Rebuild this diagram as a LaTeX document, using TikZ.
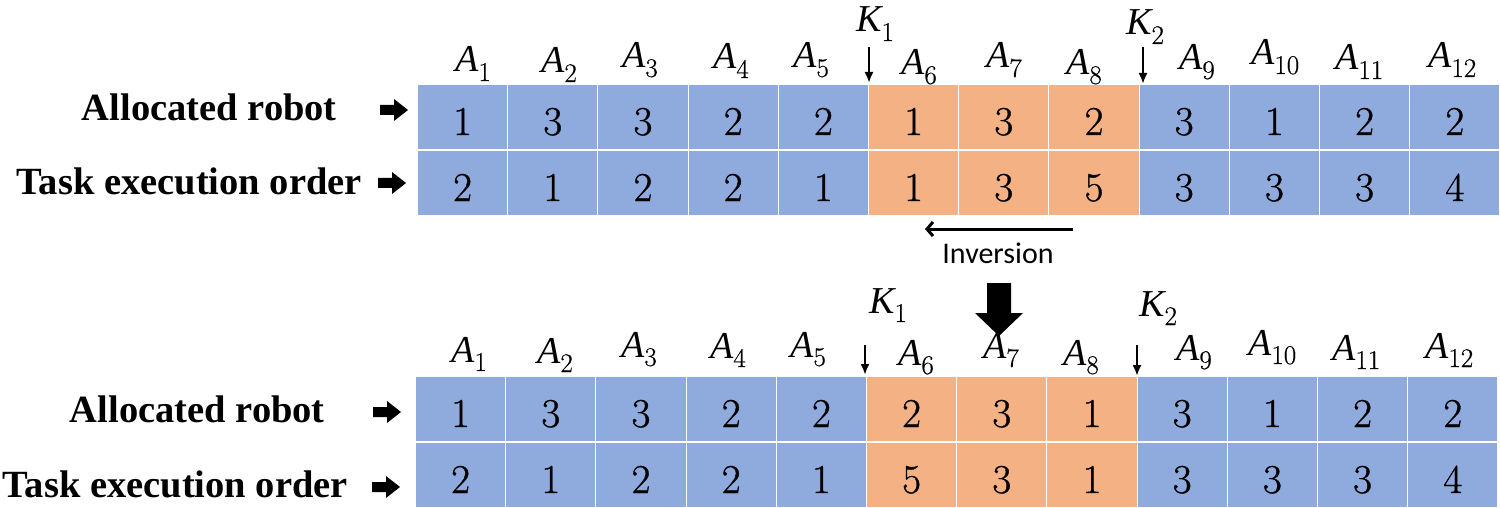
\documentclass[tikz,border=0pt]{standalone}
\usepackage{fontspec}
\newfontfamily\calfont{Carlito}
\newfontfamily\serfont{Liberation Serif}
\newfontfamily\digfont[FakeBold=0.8]{Latin Modern Roman}
\newfontfamily\subfont[FakeBold=0.5]{Latin Modern Roman}
\usetikzlibrary{arrows.meta}
\definecolor{cblue}{HTML}{8FAADC}
\definecolor{corange}{HTML}{F4B183}
\newcommand{\sublab}[2]{{\serfont\fontsize{38}{38}\selectfont\itshape #1}\raisebox{-9pt}{\subfont\fontsize{27}{27}\selectfont #2}}
\newcommand{\blockR}[2]{\fill[black,shift={(#1,#2)}] (0,-5) -- (14,-5) -- (14,-11) -- (28,0) -- (14,11) -- (14,5) -- (0,5) -- cycle;}
\begin{document}
\begin{tikzpicture}[x=1pt,y=-1pt,
  cellbox/.style={draw=white, line width=1pt, minimum width=90.2pt, minimum height=65pt, inner sep=0pt, anchor=north west},
  digit/.style={anchor=base, yshift=15pt, inner sep=0pt, font=\digfont\fontsize{41}{41}\selectfont},
  rowlab/.style={anchor=base east, inner sep=0pt, font=\serfont\fontsize{38.5}{38.5}\selectfont\bfseries},
  alab/.style={anchor=base west, inner sep=0pt},
  karrow/.style={line width=2.6pt, -{Latex[length=11pt,width=9pt]}},
  invarrow/.style={line width=3pt, -{Straight Barb[length=6pt,width=14pt]}}
]
\useasboundingbox (0,0) rectangle (1500,508);

% ---------- top table ----------
\foreach \val [count=\i] in {1,3,3,2,2,1,3,2,3,1,2,2}{
  \ifnum\i>5\relax\ifnum\i<9\relax\def\cellcol{corange}\else\def\cellcol{cblue}\fi\else\def\cellcol{cblue}\fi
  \node[cellbox, fill=\cellcol] (ta\i) at ({417+(\i-1)*90.2},84) {};
  \node[digit] (tad\i) at (ta\i.south) {\val};
}
\foreach \val [count=\i] in {2,1,2,2,1,1,3,5,3,3,3,4}{
  \ifnum\i>5\relax\ifnum\i<9\relax\def\cellcol{corange}\else\def\cellcol{cblue}\fi\else\def\cellcol{cblue}\fi
  \node[cellbox, fill=\cellcol] (tb\i) at ({417+(\i-1)*90.2},150) {};
  \node[digit] (tbd\i) at (tb\i.south) {\val};
}
\foreach \x/\y [count=\i] in {455/72,541/73,622/68,713/69,793/68,901/75,986/68,1066/75,1179/70,1251/65,1335/70,1428/68}{
  \node[alab] (tl\i) at (\x,\y) {\sublab{A}{\i}};
}
\node[alab] (tk1) at (856,32) {\sublab{K}{1}};
\node[alab] (tk2) at (1126,35) {\sublab{K}{2}};
\coordinate (tk1s) at (869,47); \coordinate (tk1e) at (869,83);
\coordinate (tk2s) at (1143,47); \coordinate (tk2e) at (1143,84);
\draw[karrow] (tk1s) -- (tk1e);
\draw[karrow] (tk2s) -- (tk2e);

\node[rowlab] (tr1) at (337,121) {Allocated robot};
\node[rowlab] (tr2) at (362,195) {Task execution order};
\blockR{380}{110}
\blockR{378}{183}

% ---------- inversion ----------
\coordinate (invs) at (1073,229);
\coordinate (inve) at (925,229);
\draw[invarrow] (invs) -- (inve);
\node[anchor=base, inner sep=0pt, font=\calfont\fontsize{30}{30}\selectfont] (inv) at (998,263) {Inversion};
\fill[black] (987,283) -- (1011,283) -- (1011,313) -- (1023,313) -- (999,336) -- (975,313) -- (987,313) -- cycle;

% ---------- bottom table ----------
\foreach \val [count=\i] in {1,3,3,2,2,2,3,1,3,1,2,2}{
  \ifnum\i>5\relax\ifnum\i<9\relax\def\cellcol{corange}\else\def\cellcol{cblue}\fi\else\def\cellcol{cblue}\fi
  \node[cellbox, fill=\cellcol] (ba\i) at ({415+(\i-1)*90.2},376) {};
  \node[digit] (bad\i) at (ba\i.south) {\val};
}
\foreach \val [count=\i] in {2,1,2,2,1,5,3,1,3,3,3,4}{
  \ifnum\i>5\relax\ifnum\i<9\relax\def\cellcol{corange}\else\def\cellcol{cblue}\fi\else\def\cellcol{cblue}\fi
  \node[cellbox, fill=\cellcol] (bb\i) at ({415+(\i-1)*90.2},442) {};
  \node[digit] (bbd\i) at (bb\i.south) {\val};
}
\foreach \x/\y [count=\i] in {451/362,537/363,621/357,710/358,790/357,898/365,983/358,1063/365,1176/360,1248/355,1332/360,1425/358}{
  \node[alab] (bl\i) at (\x,\y) {\sublab{A}{\i}};
}
\node[alab] (bk1) at (869,313) {\sublab{K}{1}};
\node[alab] (bk2) at (1139,316) {\sublab{K}{2}};
\coordinate (bk1s) at (865,345); \coordinate (bk1e) at (865,375);
\coordinate (bk2s) at (1137,345); \coordinate (bk2e) at (1137,376);
\draw[karrow] (bk1s) -- (bk1e);
\draw[karrow] (bk2s) -- (bk2e);

\node[rowlab] (br1) at (325,422) {Allocated robot};
\node[rowlab] (br2) at (348,497) {Task execution order};
\blockR{373}{412}
\blockR{372}{487}
\end{tikzpicture}
\end{document}
